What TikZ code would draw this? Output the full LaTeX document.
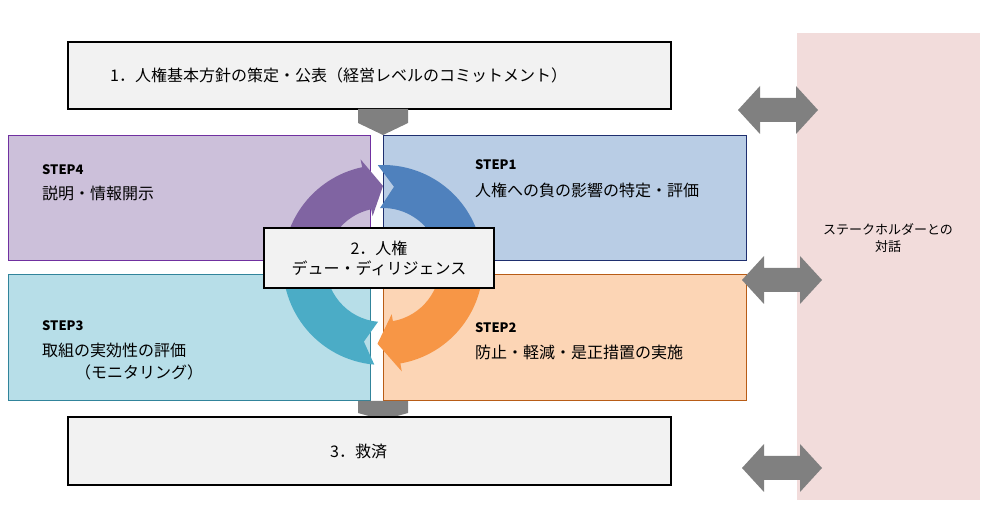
\documentclass[tikz,border=0pt]{standalone}
\usepackage{fontspec}
\setmainfont{Noto Sans CJK JP}
\definecolor{gbox}{HTML}{F2F2F2}
\definecolor{pur}{HTML}{8064A2}\definecolor{purf}{HTML}{CCC0DA}\definecolor{purb}{HTML}{7030A0}
\definecolor{blu}{HTML}{4F81BD}\definecolor{bluf}{HTML}{B9CDE5}\definecolor{blub}{HTML}{1F2F6F}
\definecolor{ora}{HTML}{F79646}\definecolor{oraf}{HTML}{FCD5B5}\definecolor{orab}{HTML}{B85C16}
\definecolor{tea}{HTML}{4BACC6}\definecolor{teaf}{HTML}{B7DEE8}\definecolor{teab}{HTML}{31849B}
\definecolor{pink}{HTML}{F2DCDB}\definecolor{garr}{HTML}{808080}
\newcommand\dblarrow[1]{\fill[garr,shift={#1}] (-40,0) -- (-18,24) -- (-18,12) -- (18,12) -- (18,24) -- (40,0) -- (18,-24) -- (18,-12) -- (-18,-12) -- (-18,-24) -- cycle;}
\begin{document}
\begin{tikzpicture}[x=1pt,y=1pt,
  box/.style={draw=black,line width=1.2pt,fill=gbox},
  stepbox/.style={line width=0.8pt},
  txt/.style={font=\fontsize{16}{19}\selectfont,anchor=west,inner sep=0},
  stp/.style={font=\bfseries\fontsize{13}{15}\selectfont,anchor=west,inner sep=0}]
\useasboundingbox (0,0) rectangle (997,527);
\fill[pink] (797,27) rectangle (980,494);
\node[font=\fontsize{13}{17}\selectfont,align=center] (st) at (888,289) {ステークホルダーとの\\対話};
% boxes
\draw[box] (68,418) rectangle (671,485);
\node[txt] (t1) at (110,452) {1．人権基本方針の策定・公表（経営レベルのコミットメント）};
\fill[garr] (358,418) -- (408,418) -- (408,404) -- (383,392) -- (358,404) -- cycle;
\draw[stepbox,draw=purb,fill=purf] (8,267) rectangle (370,392);
\draw[stepbox,draw=blub,fill=bluf] (383,267) rectangle (746,392);
\draw[stepbox,draw=teab,fill=teaf] (8,127) rectangle (370,253);
\draw[stepbox,draw=orab,fill=oraf] (383,127) rectangle (746,253);
\fill[garr] (358,126) -- (408,126) -- (408,114) -- (383,107) -- (358,114) -- cycle;
\draw[box] (68,42) rectangle (671,110);
\node[txt] (t3) at (330,76) {3．救済};
% cycle
\coordinate (c) at (383,262);
\fill[pur] ([shift={(185:100)}]c) arc[start angle=185,end angle=102,radius=100]
  -- ([shift={(102:108)}]c) -- ([shift={(90:79)}]c) -- ([shift={(102:50)}]c)
  -- ([shift={(102:57)}]c) arc[start angle=102,end angle=185,radius=57] -- cycle;
\fill[blu] ([shift={(93:100)}]c) arc[start angle=93,end angle=-5,radius=100]
  -- ([shift={(-5:57)}]c) arc[start angle=-5,end angle=93,radius=57]
  -- ([shift={(82:79)}]c) -- cycle;
\fill[ora] ([shift={(5:100)}]c) arc[start angle=5,end angle=-80,radius=100]
  -- ([shift={(-80:108)}]c) -- ([shift={(-94:79)}]c) -- ([shift={(-80:50)}]c)
  -- ([shift={(-80:57)}]c) arc[start angle=-80,end angle=5,radius=57] -- cycle;
\fill[tea] ([shift={(-95:100)}]c) arc[start angle=-95,end angle=-185,radius=100]
  -- ([shift={(-185:57)}]c) arc[start angle=-185,end angle=-95,radius=57]
  -- ([shift={(-104:79)}]c) -- cycle;
\draw[box] (264,239) rectangle (494,299);
\node[font=\fontsize{16}{20}\selectfont,align=center] (t2) at (379,269) {2．人権\\デュー・ディリジェンス};
% steps text
\node[stp] (s4) at (42,357) {STEP4};
\node[txt] (s4t) at (42,334) {説明・情報開示};
\node[stp] (s1) at (475,362) {STEP1};
\node[txt] (s1t) at (475,337) {人権への負の影響の特定・評価};
\node[stp] (s3) at (42,201) {STEP3};
\node[txt] (s3t) at (42,177) {取組の実効性の評価};
\node[txt] (s3u) at (75,155) {（モニタリング）};
\node[stp] (s2) at (475,199) {STEP2};
\node[txt] (s2t) at (475,175) {防止・軽減・是正措置の実施};
% double arrows
\dblarrow{(778,417)}
\dblarrow{(782,247)}
\dblarrow{(782,59)}
\end{tikzpicture}
\end{document}
